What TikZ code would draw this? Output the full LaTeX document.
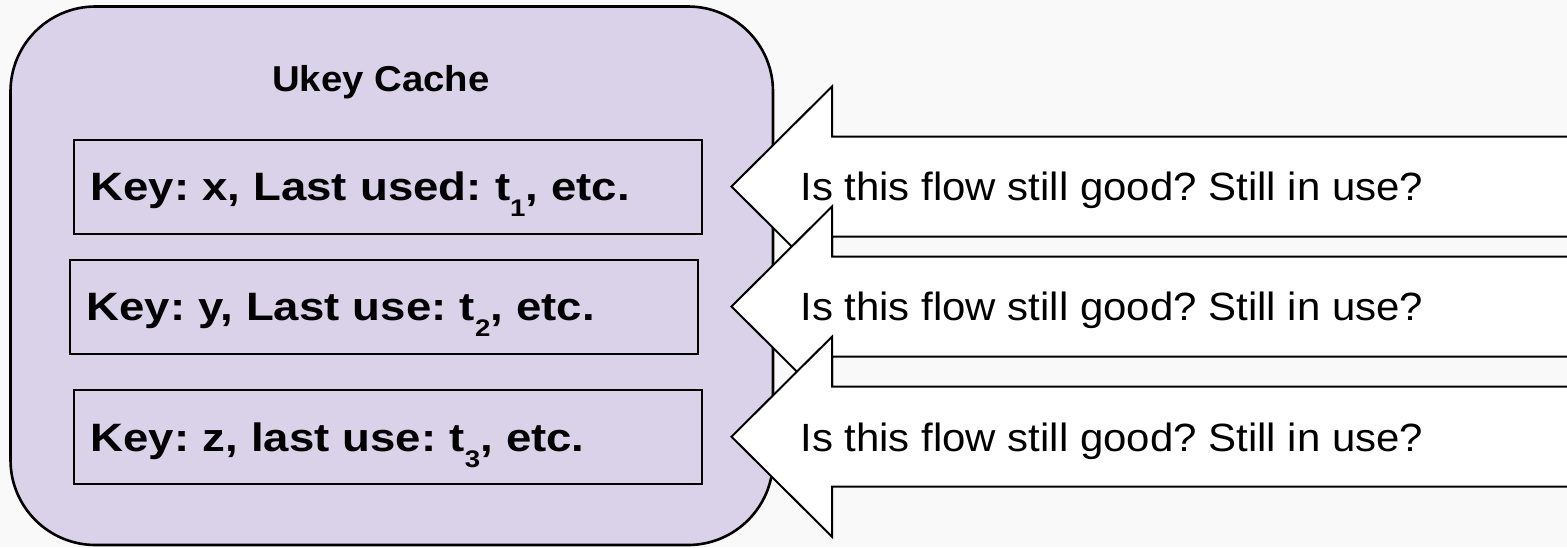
\documentclass[tikz,border=0pt]{standalone}
\usepackage{fontspec}
\setmainfont{Liberation Sans}[FakeStretch=1.065]
\newfontfamily\keyfont{Liberation Sans}[FakeStretch=1.15]
\definecolor{cachepurple}{HTML}{D9D2E9}
\definecolor{pagegrey}{HTML}{F9F9F9}
\newcommand{\tsub}[1]{\raisebox{-8pt}{\fontsize{12}{12}\selectfont #1}}
\begin{document}
\frenchspacing
\begin{tikzpicture}
  [x=0.5pt,y=-0.5pt,
   keybox/.style={draw,line width=1pt,minimum width=314pt,minimum height=47pt,
     text width=297.5pt,inner xsep=8.25pt,align=left,text height=14.1pt,text depth=0pt,
     font=\keyfont\bfseries\fontsize{19.8}{20}\selectfont},
   flowarrow/.style={draw,fill=white,line width=1pt,line join=miter},
   flowtext/.style={anchor=base west,inner sep=0pt,font=\fontsize{19.7}{20}\selectfont}]
  \useasboundingbox (0,0) rectangle (1567,547);
  \fill[pagegrey] (0,0) rectangle (1567,547);
  \clip (0,0) rectangle (1567,547);
  % the cache
  \draw[fill=cachepurple,line width=1.3pt,rounded corners=42.5pt] (10.5,6.5) rectangle (773,545);
  \node[anchor=base,inner sep=0pt,font=\bfseries\fontsize{18}{18}\selectfont] (title) at (381,91) {Ukey Cache};
  \node[keybox] (k1) at (388,186.6) {Key: x, Last used: t\tsub{1}, etc.};
  \node[keybox] (k2) at (384,306.6) {Key: y, Last use: t\tsub{2}, etc.};
  \node[keybox] (k3) at (388.2,437) {Key: z, last use: t\tsub{3}, etc.};
  % the questions
  \foreach \y/\name in {186.5/q1,306.5/q2,436.7/q3} {
    \draw[flowarrow] (731.5,\y) -- (832,\y-100) -- (832,\y-50) -- (1575,\y-50)
      -- (1575,\y+50) -- (832,\y+50) -- (832,\y+100) -- cycle;
    \node[flowtext] (\name) at (800,\y+14.3) {Is this flow still good? Still in use?};
  }
\end{tikzpicture}
\end{document}
